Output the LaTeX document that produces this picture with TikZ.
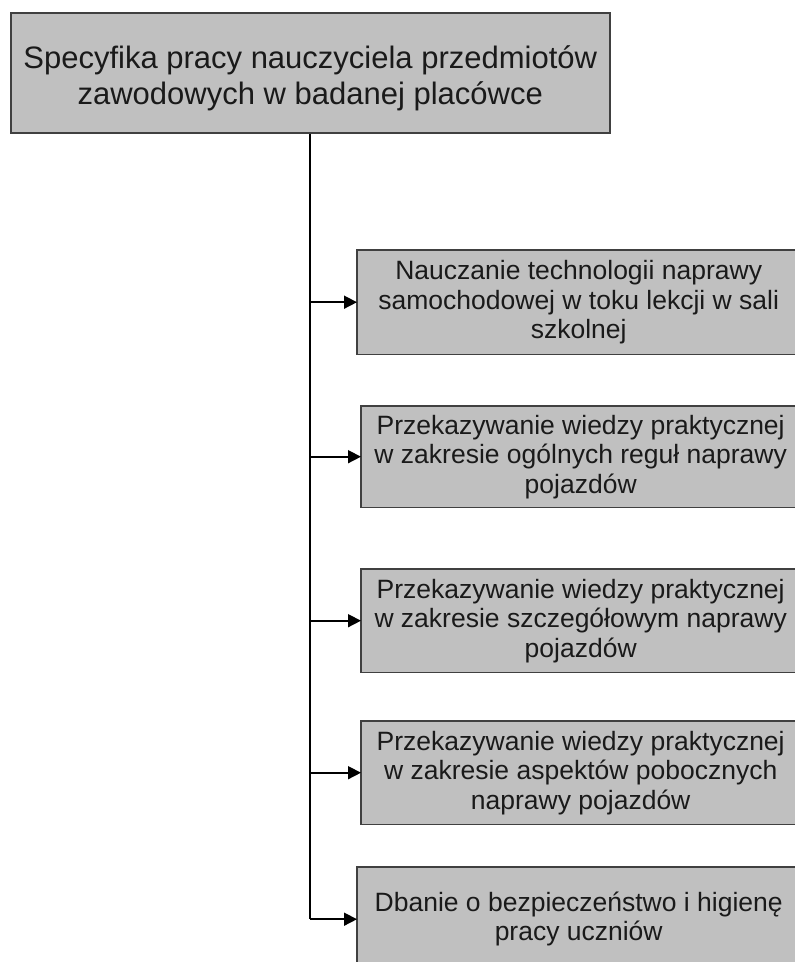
\documentclass[tikz,border=0pt]{standalone}
\usepackage{fontspec}
\setmainfont{Liberation Sans}
\usetikzlibrary{arrows.meta}
\definecolor{boxfill}{HTML}{C0C0C0}
\definecolor{boxline}{HTML}{404040}
\definecolor{txt}{HTML}{1A1A1A}
\begin{document}
\begin{tikzpicture}[x=1pt,y=-1pt,
  box/.style={fill=boxfill, inner sep=0pt, align=center, text=txt, anchor=north west},
  child/.style={box, minimum width=443pt, font=\fontsize{26.5}{29.5}\selectfont},
  edge/.style={draw=boxline, line width=1.5pt},
  conn/.style={line width=1.6pt, draw=black},
  tip/.style={-{Triangle[length=13pt,width=13pt]}}]
\useasboundingbox (0,0) rectangle (795,962);
\clip (0,0) rectangle (795,962);
\fill[white] (0,0) rectangle (795,962);
\node[box, draw=boxline, line width=1.5pt, minimum width=599pt, minimum height=120pt] (top) at (10,12) {};
\node[text=txt, align=center, inner sep=0pt, font=\fontsize{31}{36}\selectfont] (toptext) at ([yshift=-6pt]top.center)
  {Specyfika pracy nauczyciela przedmiotów\\zawodowych w badanej placówce};
\node[child, minimum height=104pt] (b1) at (357,250)
  {Nauczanie technologii naprawy\\samochodowej w toku lekcji w sali\\szkolnej};
\node[child, minimum height=101pt, minimum width=439pt] (b2) at (361,406)
  {Przekazywanie wiedzy praktycznej\\w zakresie ogólnych reguł naprawy\\pojazdów};
\node[child, minimum height=103pt, minimum width=439pt] (b3) at (361,569)
  {Przekazywanie wiedzy praktycznej\\w zakresie szczegółowym naprawy\\pojazdów};
\node[child, minimum height=103pt, minimum width=439pt] (b4) at (361,721)
  {Przekazywanie wiedzy praktycznej\\w zakresie aspektów pobocznych\\naprawy pojazdów};
\node[child, minimum height=104pt] (b5) at (357,867)
  {Dbanie o bezpieczeństwo i higienę\\pracy uczniów};
\foreach \b in {b1,b2,b3,b4,b5}
  \draw[edge] ([xshift=30pt]\b.north east) -- (\b.north west) -- (\b.south west) -- ([xshift=30pt]\b.south east);
\coordinate (corner) at (top.south |- b5.west);
\draw[conn] (top.south) -- (corner);
\draw[conn, tip] (corner) -- (b5.west);
\foreach \b in {b1,b2,b3,b4}
  \draw[conn, tip] (top.south |- \b.west) -- (\b.west);
\end{tikzpicture}
\end{document}
